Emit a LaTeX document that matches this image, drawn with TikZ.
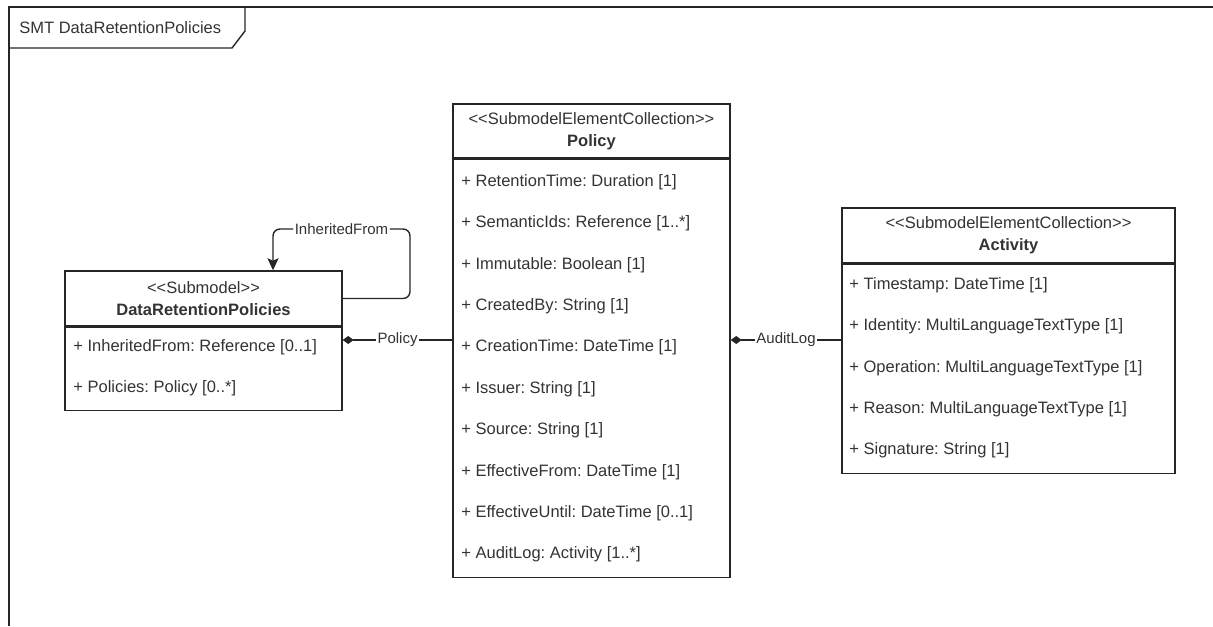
\documentclass[tikz,border=0pt]{standalone}
\usepackage{fontspec}
\setmainfont{Liberation Sans}[Ligatures=TeXOff]
\usepackage{xcolor}
\usepackage{tikz}
\usetikzlibrary{arrows.meta, positioning}
\definecolor{umlink}{HTML}{333333}
\definecolor{umlline}{HTML}{262626}
\frenchspacing

\begin{document}
\begin{tikzpicture}[x=0.5pt, y=-0.5pt,
  umlhead/.style={draw=umlline, line width=0.7pt, fill=white, align=center, text=umlink, font=\fontsize{8.25}{11}\selectfont, inner sep=0pt},
  umlbody/.style={draw=umlline, line width=0.7pt, inner sep=0pt},
  attr/.style={anchor=west, inner sep=0pt, text=umlink, font=\fontsize{8.25}{10}\selectfont},
  lbl/.style={fill=white, inner sep=0.8pt, text=umlink, font=\fontsize{7.5}{9}\selectfont},
  comp/.style={draw=umlline, line width=0.7pt, {Diamond[length=5.5pt,width=4pt]}-},
  assoc/.style={draw=umlline, line width=0.7pt, -{Stealth[length=6pt,width=5.5pt,inset=1.2pt]}, rounded corners=3.5pt},
  frame/.style={draw=umlline, line width=0.7pt}]
  \useasboundingbox (0,0) rectangle (1213,626);

  \draw[frame] (9,626) -- (9,7) -- (1213,7);
  \draw[frame] (245,7) -- (245,31) -- (232,48) -- (9,48);
  \node[attr] (smtlabel) at (19,27.5) {SMT DataRetentionPolicies};

  \node[umlhead, minimum width=138.5pt, minimum height=27.5pt] (drphead) at (203.5,298.5) {<<Submodel>>\\\textbf{DataRetentionPolicies}};
  \node[umlbody, minimum width=138.5pt, minimum height=41.5pt, below=0pt of drphead] (drpbody) {};
  \foreach \a [count=\i from 0] in {InheritedFrom: Reference [0..1], Policies: Policy [0..*]}
    \node[attr] (drp\i) at (73,{347+41.4*\i}) {+ \a};

  \node[umlhead, minimum width=138.5pt, minimum height=27pt] (polhead) at (591.5,131) {<<SubmodelElementCollection>>\\\textbf{Policy}};
  \node[umlbody, minimum width=138.5pt, minimum height=209pt, below=0pt of polhead] (polbody) {};
  \foreach \a [count=\i from 0] in {RetentionTime: Duration [1], SemanticIds: Reference [1..*], Immutable: Boolean [1], CreatedBy: String [1], CreationTime: DateTime [1], Issuer: String [1], Source: String [1], EffectiveFrom: DateTime [1], EffectiveUntil: DateTime [0..1], AuditLog: Activity [1..*]}
    \node[attr] (pol\i) at (461,{182+41.4*\i}) {+ \a};

  \node[umlhead, minimum width=166.5pt, minimum height=27.5pt] (acthead) at (1008.5,235.5) {<<SubmodelElementCollection>>\\\textbf{Activity}};
  \node[umlbody, minimum width=166.5pt, minimum height=104.5pt, below=0pt of acthead] (actbody) {};
  \foreach \a [count=\i from 0] in {Timestamp: DateTime [1], Identity: MultiLanguageTextType [1], Operation: MultiLanguageTextType [1], Reason: MultiLanguageTextType [1], Signature: String [1]}
    \node[attr] (act\i) at (849,{285+41.4*\i}) {+ \a};

  \coordinate (comprow) at (0,340);
  \draw[comp] (drpbody.east |- comprow) -- node[lbl] {Policy} (polbody.west |- comprow);
  \draw[comp] (polbody.east |- comprow) -- node[lbl] {AuditLog} (actbody.west |- comprow);
  \draw[assoc] (drphead.east) -| (410,229) -| node[lbl, pos=0.25] {InheritedFrom} ([xshift=34.75pt]drphead.north);
\end{tikzpicture}
\end{document}
